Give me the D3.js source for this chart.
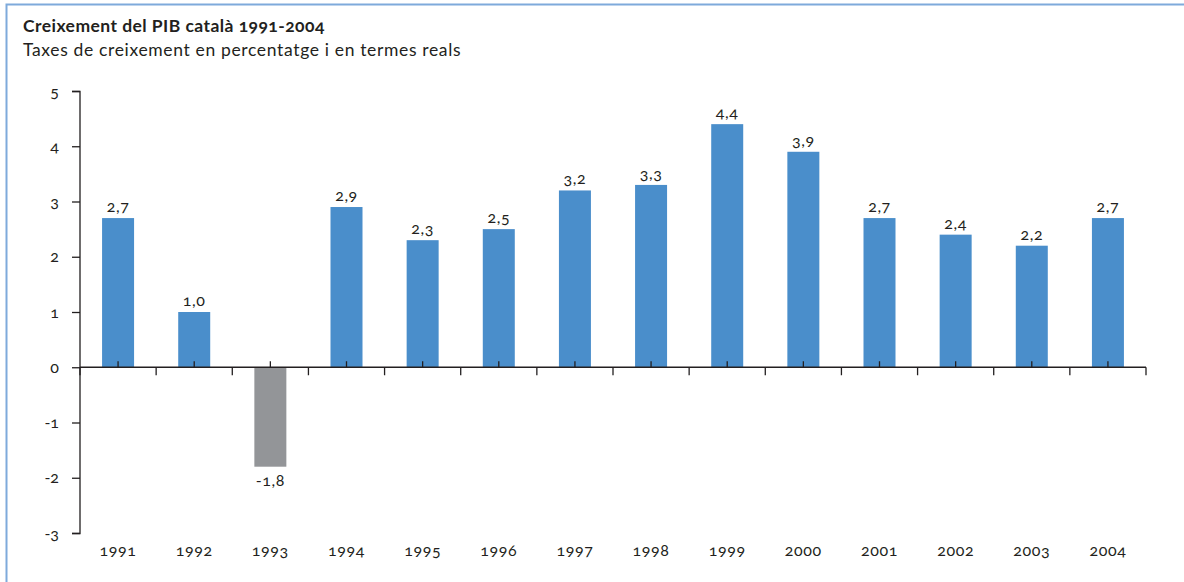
<!DOCTYPE html>
<html>
<head>
<meta charset="utf-8">
<script src="https://cdn.jsdelivr.net/npm/d3@7"></script>
<style>
  body { margin: 0; background: #fff; }
  svg text { font-family: Lato, "Open Sans", sans-serif; fill: #231f20; font-variant-numeric: oldstyle-nums; }
</style>
</head>
<body>
<svg class="chart" width="1184" height="582"></svg>
<script>
let years = ["1991", "1992", "1993", "1994", "1995", "1996", "1997", "1998", "1999", "2000", "2001", "2002", "2003", "2004"];
let growth = [2.7, 1.0, -1.8, 2.9, 2.3, 2.5, 3.2, 3.3, 4.4, 3.9, 2.7, 2.4, 2.2, 2.7];
let yTicks = [-3, -2, -1, 0, 1, 2, 3, 4, 5];

let title = "Creixement del PIB català 1991-2004";
let subtitle = "Taxes de creixement en percentatge i en termes reals";

var svg = d3.select(".chart");

// frame
svg.append("path")
   .attr("d", "M6.5,582 L6.5,4.5 L1184,4.5")
   .attr("fill", "none")
   .attr("stroke", "#7eaadb")
   .attr("stroke-width", 2);

svg.append("text")
   .attr("x", 23).attr("y", 32)
   .style("font-size", "17.5px").style("font-weight", "bold")
   .style("letter-spacing", "0.45px")
   .text(title);
svg.append("text")
   .attr("x", 23).attr("y", 56)
   .style("font-size", "17.5px")
   .style("letter-spacing", "0.65px")
   .text(subtitle);

let xScale = d3.scaleBand().domain(years).range([80, 1146]).paddingInner(0).paddingOuter(0);
let yScale = d3.scaleLinear().domain([-3, 5]).range([533, 91]);
let barW = 32;
let fmt = v => v.toFixed(1).replace(".", ",");

// bars
svg.selectAll(".bar")
   .data(growth)
   .enter().append("rect")
   .attr("class", "bar")
   .attr("x", (d, i) => xScale(years[i]) + xScale.bandwidth() / 2 - barW / 2)
   .attr("width", barW)
   .attr("y", d => yScale(Math.max(0, d)))
   .attr("height", d => Math.abs(yScale(d) - yScale(0)))
   .attr("fill", d => d < 0 ? "#939598" : "#4a8ecb");

// value labels
svg.selectAll(".val")
   .data(growth)
   .enter().append("text")
   .attr("class", "val")
   .attr("text-anchor", "middle")
   .attr("x", (d, i) => xScale(years[i]) + xScale.bandwidth() / 2)
   .attr("y", d => d < 0 ? yScale(d) + 19 : yScale(d) - 6)
   .style("font-size", "16px")
   .style("letter-spacing", "0.6px")
   .text(fmt);

// y axis
let yAxis = svg.append("g")
   .attr("transform", "translate(80,0)")
   .call(d3.axisLeft(yScale).tickValues(yTicks).tickSize(8).tickPadding(13).tickFormat(d => String(d)));
yAxis.select(".domain").attr("stroke", "#231f20").attr("stroke-width", 1.3).attr("d", "M-8,91.5H0V533.5H-8");
yAxis.selectAll(".tick line").attr("stroke", "#231f20").attr("stroke-width", 1.3);
yAxis.selectAll(".tick text").style("font-size", "16px").style("font-family", "Lato, sans-serif").attr("fill", "#231f20");

// x axis at zero
let zeroY = yScale(0);
let xg = svg.append("g");
xg.append("line")
  .attr("x1", 80).attr("x2", 1146)
  .attr("y1", zeroY).attr("y2", zeroY)
  .attr("stroke", "#231f20").attr("stroke-width", 1.3);
let bounds = years.map(y => xScale(y)).concat([xScale.range()[1]]);
xg.selectAll(".btick")
  .data(bounds)
  .enter().append("line")
  .attr("x1", d => d).attr("x2", d => d)
  .attr("y1", zeroY).attr("y2", zeroY + 8)
  .attr("stroke", "#231f20").attr("stroke-width", 1.3);
xg.selectAll(".ctick")
  .data(years)
  .enter().append("line")
  .attr("x1", d => xScale(d) + xScale.bandwidth() / 2)
  .attr("x2", d => xScale(d) + xScale.bandwidth() / 2)
  .attr("y1", zeroY - 6).attr("y2", zeroY)
  .attr("stroke", "#231f20").attr("stroke-width", 1.3);

// year labels
svg.selectAll(".year")
   .data(years)
   .enter().append("text")
   .attr("class", "year")
   .attr("text-anchor", "middle")
   .attr("x", d => xScale(d) + xScale.bandwidth() / 2)
   .attr("y", 556)
   .style("font-size", "16px")
   .style("letter-spacing", "0.6px")
   .text(d => d);
</script>
</body>
</html>
